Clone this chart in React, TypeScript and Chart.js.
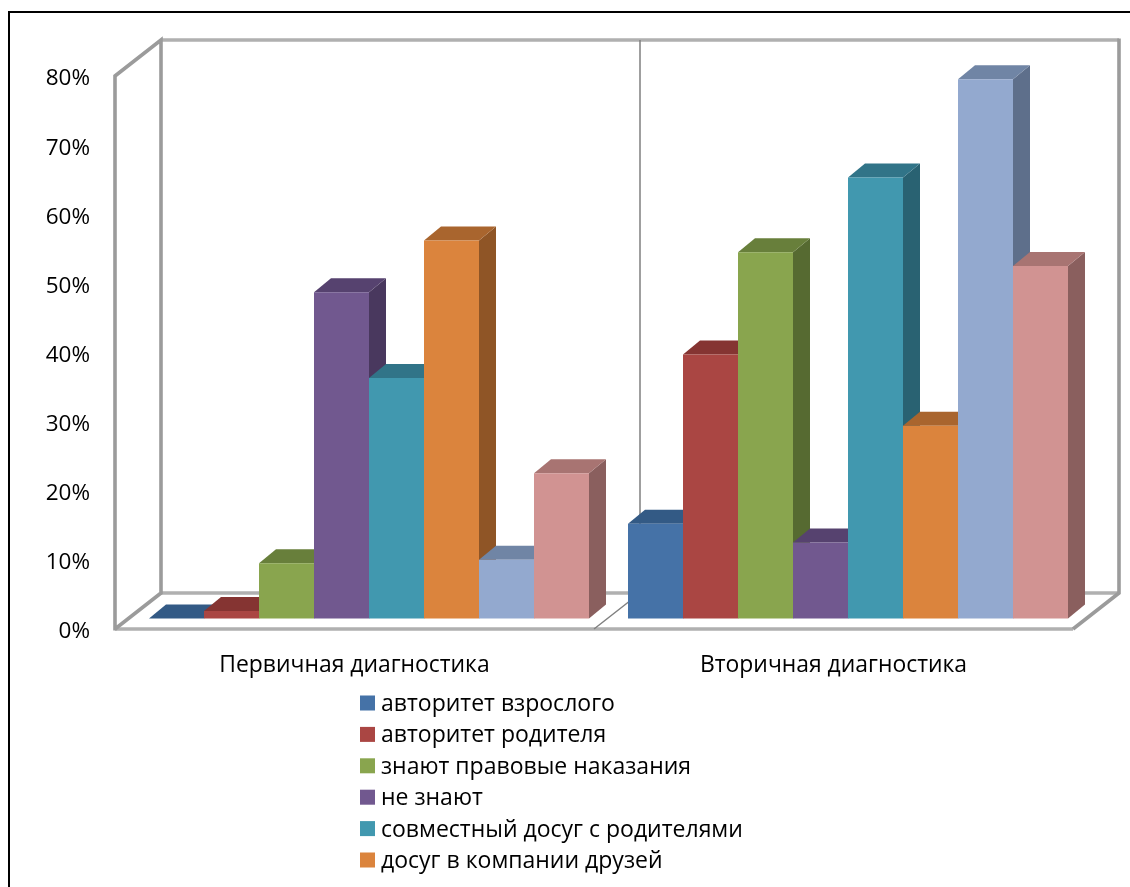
import React, { useEffect, useRef } from "react";
import { Chart, registerables } from "chart.js";

Chart.register(...registerables);

const categories = ["Первичная диагностика", "Вторичная диагностика"];
const seriesNames = [
  "авторитет взрослого",
  "авторитет родителя",
  "знают правовые наказания",
  "не знают",
  "совместный досуг с родителями",
  "досуг в компании друзей",
  "",
  "",
];
const avtoritetVzroslogo = [0, 13.7];
const avtoritetRoditelya = [1.1, 38.2];
const znayutPravovye = [8, 53];
const neZnayut = [47.2, 11];
const sovmestnyDosug = [34.8, 63.8];
const dosugDruzei = [54.7, 27.9];
const series7 = [8.5, 78];
const series8 = [21, 51];
const seriesValues = [
  avtoritetVzroslogo,
  avtoritetRoditelya,
  znayutPravovye,
  neZnayut,
  sovmestnyDosug,
  dosugDruzei,
  series7,
  series8,
];
const faceColors = ["#4572A7", "#AA4643", "#89A54E", "#71588F", "#4198AF", "#DB843D", "#93A9CF", "#D19392"];
const topColors = ["#335A85", "#853432", "#687F3B", "#56426F", "#317488", "#A9652E", "#7085A5", "#A87472"];
const sideColors = ["#2A4A70", "#6F2B29", "#566A31", "#49385E", "#296272", "#8F5526", "#5E6F8B", "#8A5F5E"];
const yTicks = [0, 10, 20, 30, 40, 50, 60, 70, 80];

const FONT = "'Open Sans', sans-serif";
const WALL = "#9b9b9b";
const WALL_LIGHT = "#b0b0b0";

const poly = (ctx: CanvasRenderingContext2D, pts: number[][], fill: string) => {
  ctx.beginPath();
  pts.forEach((p, i) => (i ? ctx.lineTo(p[0], p[1]) : ctx.moveTo(p[0], p[1])));
  ctx.closePath();
  ctx.fillStyle = fill;
  ctx.fill();
};

const wallsPlugin = {
  id: "walls3d",
  beforeDatasetsDraw(chart: any) {
    const { ctx, chartArea: a } = chart;
    const dx = 46;
    const dy = -36;
    const midX = (a.left + a.right) / 2;
    ctx.save();
    ctx.lineCap = "butt";
    ctx.lineJoin = "miter";
    // horizontal edges are the lighter ones
    ctx.strokeStyle = WALL_LIGHT;
    ctx.lineWidth = 3.6;
    ctx.beginPath();
    ctx.moveTo(a.left + dx, a.top + dy);
    ctx.lineTo(a.right + dx, a.top + dy);
    ctx.moveTo(a.left + dx, a.bottom + dy);
    ctx.lineTo(a.right + dx, a.bottom + dy);
    ctx.moveTo(a.left, a.bottom);
    ctx.lineTo(a.right, a.bottom);
    ctx.stroke();
    ctx.strokeStyle = WALL;
    ctx.lineWidth = 3.6;
    ctx.beginPath();
    ctx.moveTo(a.left, a.bottom + 1.5);
    ctx.lineTo(a.left, a.top);
    ctx.lineTo(a.left + dx, a.top + dy);
    ctx.lineTo(a.left + dx, a.bottom + dy);
    ctx.lineTo(a.left, a.bottom);
    ctx.moveTo(a.right + dx, a.top + dy - 1.5);
    ctx.lineTo(a.right + dx, a.bottom + dy);
    ctx.lineTo(a.right, a.bottom);
    ctx.stroke();
    // divider between the categories
    ctx.strokeStyle = "#808080";
    ctx.lineWidth = 1.5;
    ctx.beginPath();
    ctx.moveTo(midX + dx, a.top + dy);
    ctx.lineTo(midX + dx, a.bottom + dy);
    ctx.moveTo(midX, a.bottom);
    ctx.lineTo(midX + dx, a.bottom + dy);
    ctx.stroke();
    ctx.restore();
  },
};

const bars3dPlugin = {
  id: "bars3d",
  beforeDatasetDraw() {
    return false;
  },
  afterDatasetsDraw(chart: any) {
    const { ctx } = chart;
    const depthX = 17;
    const depthY = -14;
    ctx.save();
    ctx.translate(14.5, -10.5);
    categories.forEach((_, c) => {
      seriesValues.forEach((__, s) => {
        const el = chart.getDatasetMeta(s).data[c];
        const l = el.x - el.width / 2;
        const r = el.x + el.width / 2;
        poly(ctx, [[r, el.y], [r + depthX, el.y + depthY], [r + depthX, el.base + depthY], [r, el.base]], sideColors[s]);
        poly(ctx, [[l, el.y], [l + depthX, el.y + depthY], [r + depthX, el.y + depthY], [r, el.y]], topColors[s]);
        el.draw(ctx);
      });
    });
    ctx.restore();
  },
};

const legendPlugin = {
  id: "columnLegend",
  afterDraw(chart: any) {
    const { ctx } = chart;
    ctx.save();
    ctx.font = `23px ${FONT}`;
    ctx.textBaseline = "middle";
    seriesNames.forEach((name, i) => {
      if (!name) return;
      const y = 703 + i * 31.4;
      ctx.fillStyle = faceColors[i];
      ctx.fillRect(360, y - 7.5, 15, 15);
      ctx.fillStyle = "#000";
      ctx.fillText(name, 381, y + 1.5);
    });
    ctx.restore();
  },
};

export default function App() {
  const ref = useRef<HTMLCanvasElement>(null);
  useEffect(() => {
    const chart = new Chart(ref.current!, {
      type: "bar",
      data: {
        labels: categories,
        datasets: seriesValues.map((data, i) => ({
          label: seriesNames[i],
          data,
          backgroundColor: faceColors[i],
          borderWidth: 0,
          barPercentage: 1,
          categoryPercentage: 440 / 479,
        })),
      },
      options: {
        responsive: false,
        animation: false,
        devicePixelRatio: 1,
        layout: { padding: { left: 0, top: 76, right: 57, bottom: 198 } },
        plugins: { legend: { display: false }, tooltip: { enabled: false }, title: { display: false } },
        scales: {
          x: {
            grid: { display: false, drawTicks: false },
            border: { display: false },
            ticks: { color: "#000", font: { family: FONT, size: 22.9 }, padding: 23, maxRotation: 0 },
            afterFit: (s: any) => {
              s.height = 60;
            },
          },
          y: {
            min: 0,
            max: 80,
            grid: { display: false, drawTicks: false },
            border: { display: false },
            afterBuildTicks: (s: any) => {
              s.ticks = yTicks.map((value) => ({ value }));
            },
            ticks: { color: "#000", font: { family: FONT, size: 22.5 }, padding: 25, labelOffset: 3, callback: (v: any) => `${v}%` },
            afterFit: (s: any) => {
              s.width = 115;
            },
          },
        },
      },
      plugins: [wallsPlugin, bars3dPlugin, legendPlugin],
    } as any);
    return () => chart.destroy();
  }, []);
  return (
    <div style={{ position: "fixed", left: 0, top: 0, width: 1130, height: 887, background: "#fff", overflow: "hidden" }}>
      <canvas ref={ref} width={1130} height={887} style={{ display: "block", filter: "blur(0.7px)" }} />
      <div style={{ position: "absolute", left: 8, top: 11, width: 1130, height: 887, borderLeft: "2px solid #000", borderTop: "2px solid #000" }} />
    </div>
  );
}
